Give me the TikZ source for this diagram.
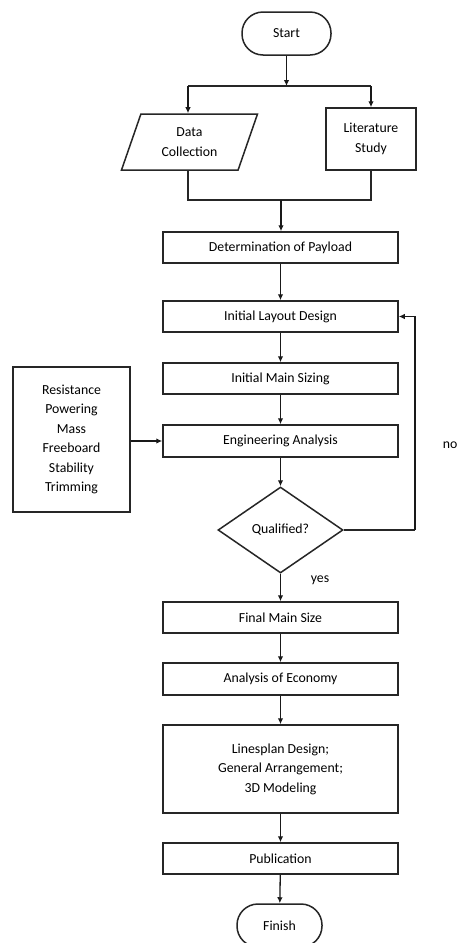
\documentclass[tikz,border=0pt]{standalone}
\usepackage{fontspec}
\setmainfont{Carlito}
\usetikzlibrary{shapes.geometric,arrows.meta}
\begin{document}
\begin{tikzpicture}[x=1pt,y=-1pt,
  every node/.style={font=\fontsize{13.8}{19.5}\selectfont, align=center, inner sep=0pt},
  box/.style={draw=black!85, line width=1.5pt, rectangle, minimum width=235pt, minimum height=31pt},
  term/.style={draw=black!85, line width=1.5pt, rectangle, rounded corners=21pt, minimum height=43pt},
  arr/.style={-{Latex[length=6pt,width=5.5pt]}, line width=1.3pt, draw=black!90},
  ln/.style={line width=1.3pt, draw=black!85}]
\useasboundingbox (0,0) rectangle (458,943);
\fill[white] (0,0) rectangle (458,943);
% nodes
\node[term, minimum width=89pt] (start) at (286.5,33.5) {Start};
\node[draw=black!85, line width=1.5pt, trapezium, trapezium left angle=68.6, trapezium right angle=111.4, trapezium stretches=true, minimum width=137pt, minimum height=56pt] (dc) at (189.5,142) {Data\\Collection};
\node[draw=black!85, line width=1.5pt, rectangle, minimum width=90pt, minimum height=62pt] (lit) at (371,139) {Literature\\Study};
\node[box] (pay) at (280.5,247.5) {Determination of Payload};
\node[box] (ild) at (280.5,316.5) {Initial Layout Design};
\node[box] (ims) at (280.5,378.5) {Initial Main Sizing};
\node[box, minimum height=32pt] (ea) at (280.5,441) {Engineering Analysis};
\node[draw=black!85, line width=1.5pt, rectangle, minimum width=117pt, minimum height=145pt] (crit) at (71.5,439.5) {Resistance\\Powering\\Mass\\Freeboard\\Stability\\Trimming};
\node[draw=black!85, line width=1.5pt, diamond, aspect=1.45, minimum width=125pt, minimum height=86pt] (q) at (280.5,530) {Qualified?};
\node[box] (fms) at (280.5,617.5) {Final Main Size};
\node[box, minimum height=32pt] (aoe) at (280.5,679) {Analysis of Economy};
\node[box, minimum height=88pt] (lp) at (280.5,769) {Linesplan Design;\\General Arrangement;\\3D Modeling};
\node[box] (pub) at (280.5,858.5) {Publication};
\node[term, minimum width=85pt] (fin) at (279.5,925.5) {Finish};
\node (yes) at (320,580) {yes};
\node[anchor=east] (no) at (457.5,445) {no};
% coordinates
\coordinate (j1) at (286.5,86);
\coordinate (jl) at (188,86);
\coordinate (jr) at (371,86);
\coordinate (bl) at (188,200);
\coordinate (br) at (371,200);
\coordinate (bm) at (281,200);
\coordinate (fb) at (415,530);
% connectors
\draw[arr] (start.south) -- (j1);
\draw[ln] (jl) -- (jr);
\draw[arr] (jl) -- (jl |- dc.north);
\draw[arr] (jr) -- (lit.north);
\draw[ln] (bl |- dc.south) -- (bl) -- (br) -- (lit.south);
\draw[arr] (bm) -- (bm |- pay.north);
\draw[arr] (pay) -- (ild);
\draw[arr] (ild) -- (ims);
\draw[arr] (ims) -- (ea);
\draw[arr] (crit.east |- ea.west) -- (ea.west);
\draw[arr] (ea) -- (q);
\draw[ln] (q.east) -- (fb);
\draw[arr] (fb) |- (ild.east);
\draw[arr] (q) -- (fms);
\draw[arr] (fms) -- (aoe);
\draw[arr] (aoe) -- (lp);
\draw[arr] (lp) -- (pub);
\draw[arr] (pub) -- (fin);
\end{tikzpicture}
\end{document}
